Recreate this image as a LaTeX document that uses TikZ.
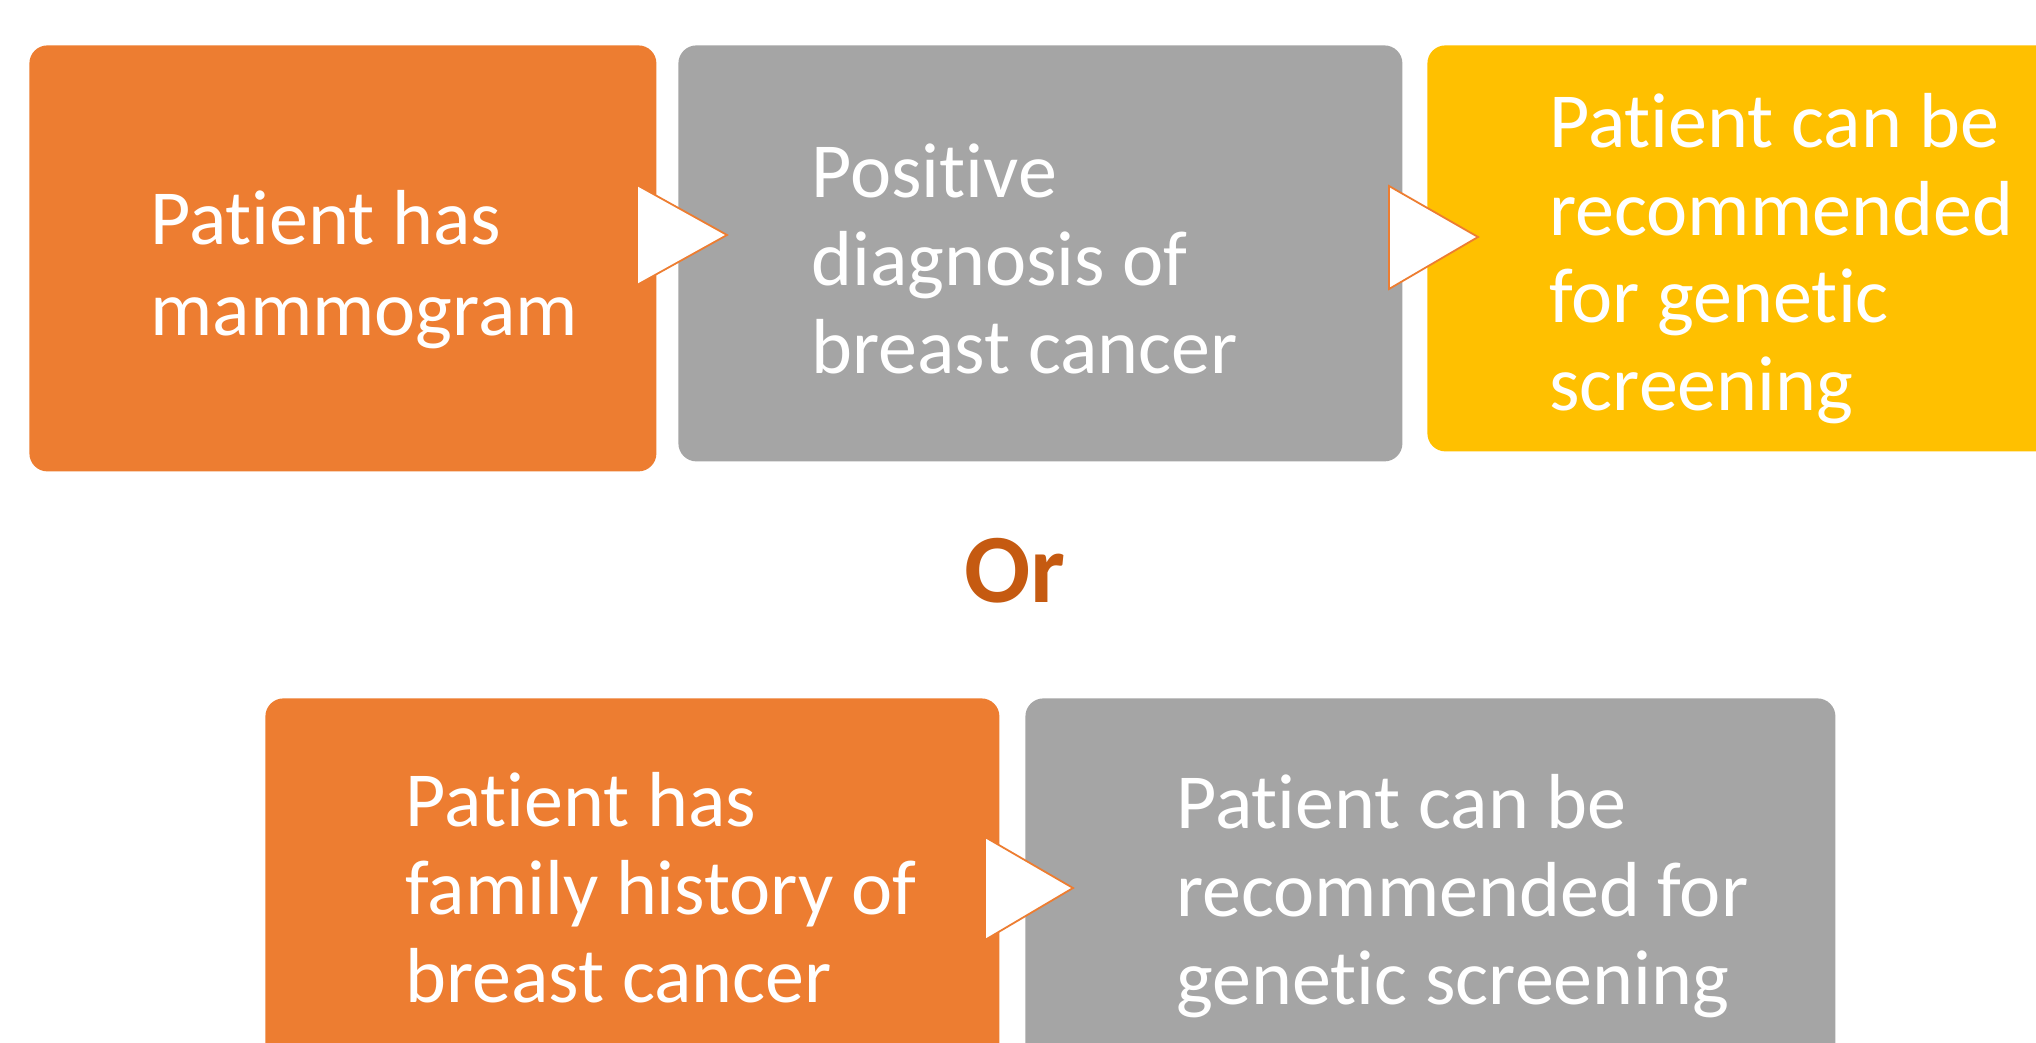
\documentclass[tikz,border=0pt]{standalone}
\usepackage{fontspec}
\setmainfont[Ligatures=NoCommon]{Carlito}
\definecolor{stepOrange}{HTML}{ED7D31}
\definecolor{stepGray}{HTML}{A5A5A5}
\definecolor{stepGold}{HTML}{FFC000}
\definecolor{orText}{HTML}{C55A11}
\tikzset{
  stepbox/.style={draw=none, rounded corners=9pt, inner sep=0pt, anchor=north west},
  steptext/.style={anchor=base west, inner sep=0pt, text=white,
    font=\fontsize{39}{44}\selectfont},
  chevron/.style={fill=white, draw=stepOrange, line width=0.9pt, line join=miter},
}
\begin{document}
\begin{tikzpicture}[x=0.5pt, y=-0.5pt]
  \useasboundingbox (0,0) rectangle (2036,1043);
  \clip (0,0) rectangle (2036,1043);
  \fill[white] (0,0) rectangle (2036,1043);

  % first route: mammogram -> diagnosis -> screening
  \node[stepbox, fill=stepOrange, minimum width=313.5pt, minimum height=213pt] (b1) at (29,45) {};
  \node[stepbox, fill=stepGray,   minimum width=362pt,   minimum height=208pt] (b2) at (678,45) {};
  \node[stepbox, fill=stepGold,   minimum width=330pt,   minimum height=203pt] (b3) at (1427,45) {};

  \draw[chevron] (637,185) -- (727,235) -- (637,285) -- cycle;
  \draw[chevron] (1389,186) -- (1478,237) -- (1389,289) -- cycle;

  \node[steptext, font=\fontsize{39}{45.5}\selectfont] (t1) at (150,245)
    {\vtop{\hbox{Patient has}\hbox{mammogram}}};
  \node[steptext] (t2) at (811,198)
    {\vtop{\hbox{Positive}\hbox{diagnosis of}\hbox{breast cancer}}};
  \node[steptext, font=\fontsize{39}{43.7}\selectfont] (t3) at (1549,148)
    {\vtop{\hbox{Patient can be}\hbox{recommended}\hbox{for genetic}\hbox{screening}}};

  % alternative
  \node[anchor=base, inner sep=0pt, text=orText, font=\fontsize{49}{55}\selectfont\bfseries] (or) at (1015,602) {Or};

  % second route: family history -> screening
  \node[stepbox, fill=stepOrange, minimum width=367pt, minimum height=250pt] (b4) at (265,698) {};
  \node[stepbox, fill=stepGray,   minimum width=405pt, minimum height=250pt] (b5) at (1025,698) {};

  \draw[chevron] (985,837) -- (1073,888) -- (985,940) -- cycle;

  \node[steptext] (t4) at (405,826)
    {\vtop{\hbox{Patient has}\hbox{family history of}\hbox{breast cancer}}};
  \node[steptext] (t5) at (1176,828)
    {\vtop{\hbox{Patient can be}\hbox{recommended for}\hbox{genetic screening}}};
\end{tikzpicture}
\end{document}
